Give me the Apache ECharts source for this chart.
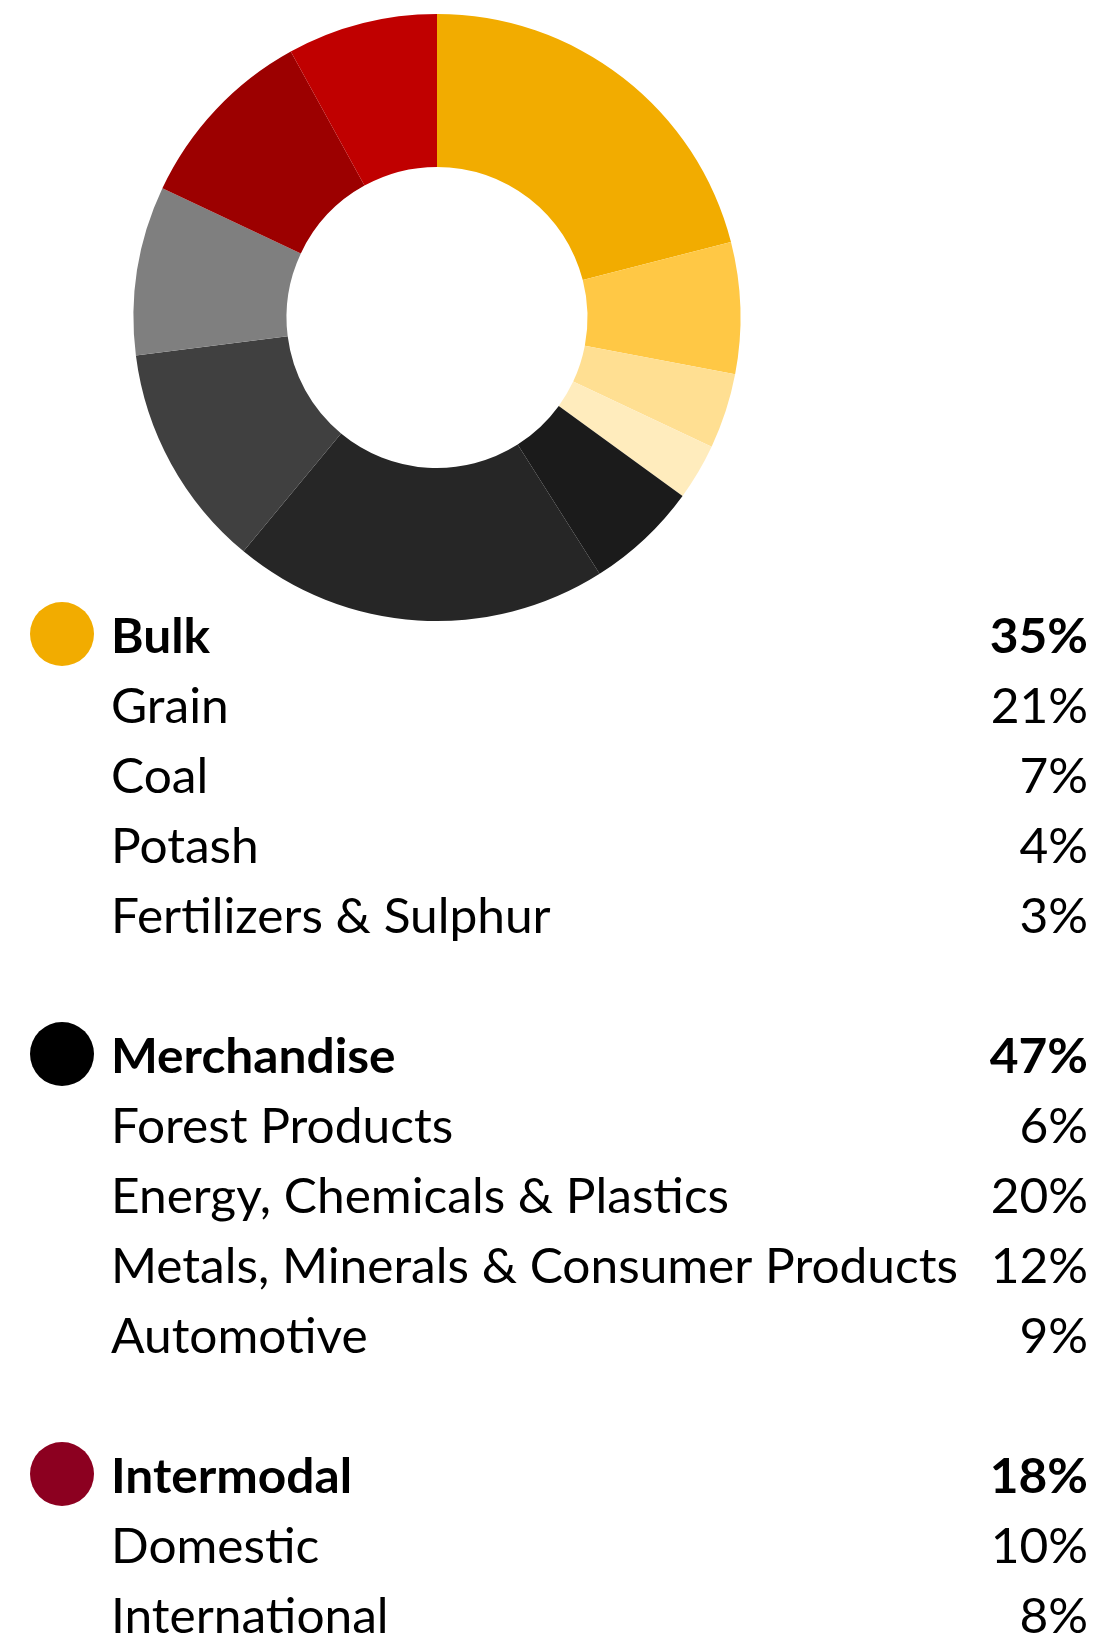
<!DOCTYPE html>
<html><head><meta charset="utf-8">
<script src="https://cdn.jsdelivr.net/npm/echarts@6/dist/echarts.min.js"></script>
<style>html,body{margin:0;padding:0;background:#fff}#c{width:1101px;height:1640px}</style>
</head><body><div id="c"></div>
<script>
// ---- data ----
const categories = ['Grain', 'Coal', 'Potash', 'Fertilizers & Sulphur',
  'Forest Products', 'Energy, Chemicals & Plastics', 'Metals, Minerals & Consumer Products', 'Automotive',
  'Domestic', 'International'];
const shares = [21, 7, 4, 3, 6, 20, 12, 9, 10, 8];
const sliceColors = ['#F2AC00', '#FFC845', '#FFDF92', '#FFECBD',
  '#1B1B1B', '#262626', '#404040', '#7F7F7F',
  '#9C0000', '#C00000'];
const groupNames = ['Bulk', 'Merchandise', 'Intermodal'];
const groupTotals = [35, 47, 18];
const groupSizes = [4, 4, 2];
const groupColors = ['#F2AC00', '#000000', '#8C0020'];

// ---- layout ----
const FONT = 'Lato, "Noto Sans", sans-serif';
const FS = 48;
const X_TEXT = 111, X_PCT = 1088, X_DOT = 62, DOT_R = 32;
const BASE0 = 655, STEP = 70;

// horizontal compression to mimic the narrow original face
const cv = document.createElement('canvas').getContext('2d');
cv.font = FS + 'px ' + FONT;
const sx = 847 / cv.measureText('Metals, Minerals & Consumer Products').width;

const chart = echarts.init(document.getElementById('c'), null, {renderer: 'canvas'});
const graphics = [];
function addText(str, x, row, bold, align) {
  const baseline = BASE0 + STEP * row;
  graphics.push({
    type: 'text', x: x, y: baseline - 17, scaleX: sx, silent: true,
    style: {text: str, font: (bold ? 'bold ' : '') + FS + 'px ' + FONT, fill: '#000',
      textAlign: align, textVerticalAlign: 'middle', verticalAlign: 'middle'}
  });
}
let row = 0, k = 0;
groupNames.forEach((g, gi) => {
  graphics.push({type: 'circle', silent: true,
    shape: {cx: X_DOT, cy: BASE0 + STEP * row - 21, r: DOT_R},
    style: {fill: groupColors[gi]}});
  addText(g, X_TEXT, row, true, 'left');
  addText(groupTotals[gi] + '%', X_PCT, row, true, 'right');
  for (let j = 0; j < groupSizes[gi]; j++) {
    row++;
    addText(categories[k], X_TEXT, row, false, 'left');
    addText(shares[k] + '%', X_PCT, row, false, 'right');
    k++;
  }
  row += 2;
});

chart.setOption({
  animation: false,
  backgroundColor: '#fff',
  series: [{
    type: 'pie',
    center: [437, 317.5],
    radius: [150.5, 303.5],
    startAngle: 90,
    clockwise: true,
    avoidLabelOverlap: false,
    label: {show: false},
    labelLine: {show: false},
    emphasis: {disabled: true},
    itemStyle: {borderWidth: 0},
    data: categories.map((c, i) => ({name: c, value: shares[i], itemStyle: {color: sliceColors[i]}}))
  }],
  graphic: graphics
});
</script>
</body></html>
